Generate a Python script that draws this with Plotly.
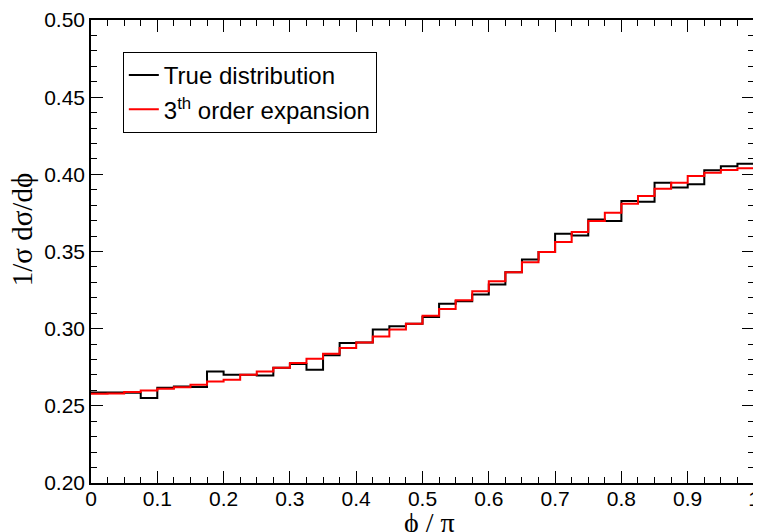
import plotly.graph_objects as go

bin_edges = [i * 0.025 for i in range(41)]

true_dist = [0.2587, 0.2587, 0.2585, 0.2550, 0.2617, 0.2626, 0.2622, 0.2723, 0.2701, 0.2701,
             0.2697, 0.2747, 0.2771, 0.2734, 0.2827, 0.2907, 0.2911, 0.2994, 0.3015, 0.3032,
             0.3076, 0.3162, 0.3177, 0.3221, 0.3286, 0.3366, 0.3448, 0.3496, 0.3615, 0.3604,
             0.3708, 0.3697, 0.3828, 0.3823, 0.3946, 0.3914, 0.3935, 0.4026, 0.4053, 0.4068]

expansion = [0.2578, 0.2580, 0.2590, 0.2600, 0.2610, 0.2620, 0.2636, 0.2658, 0.2669, 0.2701,
             0.2723, 0.2747, 0.2777, 0.2805, 0.2838, 0.2875, 0.2911, 0.2950, 0.2994, 0.3032,
             0.3084, 0.3128, 0.3184, 0.3242, 0.3307, 0.3366, 0.3431, 0.3496, 0.3561, 0.3626,
             0.3697, 0.3751, 0.3810, 0.3860, 0.3907, 0.3946, 0.3989, 0.4010, 0.4028, 0.4039]

x_ticks = [0, 0.1, 0.2, 0.3, 0.4, 0.5, 0.6, 0.7, 0.8, 0.9, 1]
x_tick_labels = ["0", "0.1", "0.2", "0.3", "0.4", "0.5", "0.6", "0.7", "0.8", "0.9", "1"]
y_ticks = [0.20, 0.25, 0.30, 0.35, 0.40, 0.45, 0.50]
y_tick_labels = ["0.20", "0.25", "0.30", "0.35", "0.40", "0.45", "0.50"]

fig = go.Figure()
fig.add_trace(go.Scatter(
    x=bin_edges, y=true_dist + [true_dist[-1]], mode="lines", line_shape="hv",
    line=dict(color="black", width=2), name="True distribution"))
fig.add_trace(go.Scatter(
    x=bin_edges, y=expansion + [expansion[-1]], mode="lines", line_shape="hv",
    line=dict(color="#ff0000", width=2), name="3<sup>th</sup> order expansion"))

axis_common = dict(
    showgrid=False, zeroline=False, showline=True, linecolor="black", linewidth=1.5,
    mirror="allticks", ticks="inside", ticklen=12, tickwidth=1.2, tickcolor="black",
    automargin=False, ticklabeloverflow="allow",
    tickfont=dict(family="Liberation Sans, Arial, sans-serif", size=21, color="black"),
)

# the page body has an 8px margin, so the figure is sized to fit the window
fig.update_layout(
    width=753, height=524,
    margin=dict(l=83, r=7, t=12, b=49),
    paper_bgcolor="white", plot_bgcolor="white",
    xaxis=dict(range=[0, 1], tickvals=x_ticks, ticktext=x_tick_labels,
               ticklabelstandoff=-4,
               minor=dict(dtick=0.025, ticks="inside", ticklen=6, tickwidth=1.2, tickcolor="black"),
               **axis_common),
    yaxis=dict(range=[0.2, 0.5], tickvals=y_ticks, ticktext=y_tick_labels,
               minor=dict(dtick=0.01, ticks="inside", ticklen=6, tickwidth=1.2, tickcolor="black"),
               **axis_common),
    legend=dict(x=0.048, y=0.931, xanchor="left", yanchor="top",
                bgcolor="white", bordercolor="black", borderwidth=1,
                font=dict(family="Liberation Sans, Arial, sans-serif", size=24, color="black"),
                tracegroupgap=0, itemwidth=30),
    showlegend=True,
    annotations=[
        dict(text="\u03d5 / \u03c0", xref="paper", yref="paper", x=0.51, y=-0.086,
             xanchor="center", yanchor="middle", showarrow=False,
             font=dict(family="Liberation Serif, DejaVu Serif, serif", size=28, color="black")),
        dict(text="1/\u03c3 d\u03c3/d\u03d5", xref="paper", yref="paper", x=-0.104, y=0.546,
             xanchor="center", yanchor="middle", textangle=-90, showarrow=False,
             font=dict(family="Liberation Serif, DejaVu Serif, serif", size=29, color="black")),
    ],
)

fig.write_html("out.html")
